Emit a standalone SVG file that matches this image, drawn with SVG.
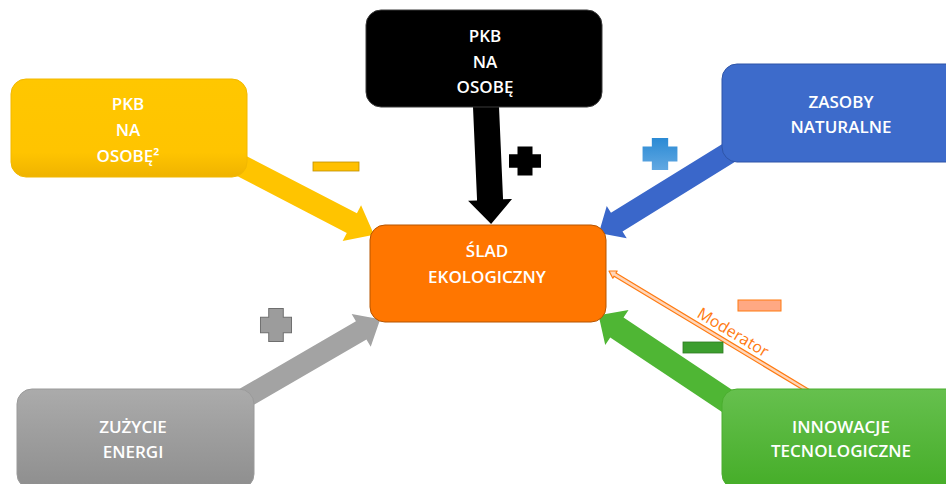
<svg xmlns="http://www.w3.org/2000/svg" width="946" height="484" viewBox="0 0 946 484">
  <style>
    .lbl { font-family: "Open Sans", "Liberation Sans", sans-serif; font-size: 17px; font-weight: 600; fill: #ffffff; text-anchor: middle; }
    .mod { font-family: "Open Sans", "Liberation Sans", sans-serif; font-size: 16px; fill: #FF7A10; text-anchor: middle; }
    .box { stroke-width: 1; }
  </style>
  <defs>
    <linearGradient id="gYellow" x1="0" y1="0" x2="0" y2="1">
      <stop offset="0" stop-color="#FFC700"/>
      <stop offset="0.75" stop-color="#FFC400"/>
      <stop offset="1" stop-color="#EFB300"/>
    </linearGradient>
    <linearGradient id="gGray" x1="0" y1="0" x2="0" y2="1">
      <stop offset="0" stop-color="#ABABAB"/>
      <stop offset="1" stop-color="#8E8E8E"/>
    </linearGradient>
    <linearGradient id="gGreen" x1="0" y1="0" x2="0" y2="1">
      <stop offset="0" stop-color="#66C04E"/>
      <stop offset="1" stop-color="#45AD28"/>
    </linearGradient>
    <linearGradient id="gBluePlus" x1="0" y1="0" x2="0" y2="1">
      <stop offset="0" stop-color="#2A8AD4"/>
      <stop offset="1" stop-color="#62A8E2"/>
    </linearGradient>
    <path id="plus" d="M-7.5,-16 H7.5 V-7.5 H16 V7.5 H7.5 V16 H-7.5 V7.5 H-16 V-7.5 H-7.5 Z"/>
  </defs>

  <!-- connectors: block arrows pointing into the central node -->
  <g id="connectors">
    <polygon fill="#FFC400" transform="translate(232,161) rotate(27.4)" points="0,-11 135,-11 135,-20 160,0 135,20 135,11 0,11"/>
    <polygon fill="#000000" transform="translate(485.7,100) rotate(87.5)" points="0,-13 100,-13 100,-22 124,0 100,22 100,13 0,13"/>
    <polygon fill="#3A67CA" transform="translate(735,149) rotate(148.3)" points="0,-11 139,-11 139,-19 160,0 139,19 139,11 0,11"/>
    <polygon fill="#A3A3A3" transform="translate(241.8,399.6) rotate(-30.1)" points="0,-10.5 138,-10.5 138,-19 160,0 138,19 138,10.5 0,10.5"/>
    <polygon fill="#4FB634" transform="translate(731.7,404.1) rotate(213.7)" points="0,-12 138,-12 138,-21 160,0 138,21 138,12 0,12"/>
    <!-- moderating effect: thin hollow arrow with its label -->
    <g transform="translate(609,271) rotate(31.05)">
      <polygon fill="#FFD6BA" stroke="#FF7A10" stroke-width="1.2" stroke-linejoin="round" points="234.6,-1.8 7,-1.8 7,-4.2 0,0 7,4.2 7,1.8 234.6,1.8"/>
      <text class="mod" x="138" y="-6">Moderator</text>
    </g>
  </g>

  <!-- sign markers on the arrows -->
  <g id="signs">
    <use href="#plus" transform="translate(525,161) scale(1,0.9)" fill="#000000"/>
    <use href="#plus" transform="translate(660,154) scale(1.09,1)" fill="url(#gBluePlus)"/>
    <use href="#plus" transform="translate(276,325) scale(0.97,1.03)" fill="#9C9C9C" stroke="#6E6E6E" stroke-width="1"/>
    <rect x="313" y="162" width="46" height="9" fill="#FFC000" stroke="#BF9000" stroke-width="0.8"/>
    <rect x="738" y="300" width="43" height="11" fill="#FFA883" stroke="#FF7A10" stroke-width="1"/>
    <rect x="683" y="342" width="40" height="11" fill="#3C9E2E" stroke="#2E7A22" stroke-width="0.8"/>
  </g>

  <g id="node-pkb-sq">
    <rect class="box" x="11" y="79" width="236" height="98" rx="15" fill="url(#gYellow)" stroke="#F2B800"/>
    <text class="lbl" x="128" y="110">PKB</text>
    <text class="lbl" x="128" y="136">NA</text>
    <text class="lbl" x="128" y="162">OSOBĘ²</text>
  </g>

  <g id="node-pkb">
    <rect class="box" x="366" y="10" width="236" height="97" rx="15" fill="#000000" stroke="#3A3A3A"/>
    <text class="lbl" x="485" y="42">PKB</text>
    <text class="lbl" x="485" y="68">NA</text>
    <text class="lbl" x="485" y="93">OSOBĘ</text>
  </g>

  <g id="node-zasoby">
    <rect class="box" x="722" y="64" width="240" height="98" rx="15" fill="#3D6BCB" stroke="#2F55A8"/>
    <text class="lbl" x="841" y="108">ZASOBY</text>
    <text class="lbl" x="841" y="133">NATURALNE</text>
  </g>

  <g id="node-slad">
    <rect class="box" x="370" y="225" width="236" height="97" rx="15" fill="#FF7600" stroke="#B55400"/>
    <text class="lbl" x="487" y="257">ŚLAD</text>
    <text class="lbl" x="487" y="283">EKOLOGICZNY</text>
  </g>

  <g id="node-energia">
    <rect class="box" x="17" y="389" width="237" height="100" rx="15" fill="url(#gGray)" stroke="#9A9A9A"/>
    <text class="lbl" x="133" y="433">ZUŻYCIE</text>
    <text class="lbl" x="133" y="458">ENERGI</text>
  </g>

  <g id="node-innowacje">
    <rect class="box" x="722" y="389" width="240" height="100" rx="15" fill="url(#gGreen)" stroke="#4AAE2E"/>
    <text class="lbl" x="841" y="433">INNOWACJE</text>
    <text class="lbl" x="841" y="457">TECNOLOGICZNE</text>
  </g>
</svg>
